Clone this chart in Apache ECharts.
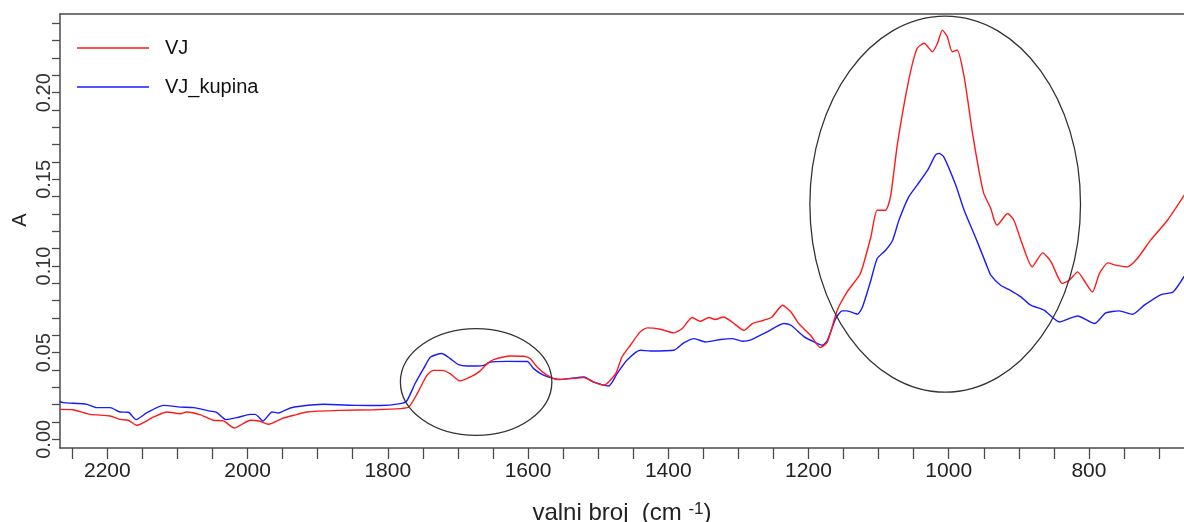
<!DOCTYPE html>
<html>
<head>
<meta charset="utf-8">
<script src="https://cdn.jsdelivr.net/npm/echarts@6/dist/echarts.min.js"></script>
<style>
  html, body { margin: 0; padding: 0; background: #ffffff; }
  #chart { width: 1184px; height: 522px; }
</style>
</head>
<body>
<div id="chart"></div>
<script>
// ---- Data ----
const seriesNames = ['VJ', 'VJ_kupina'];

const vjWavenumber = [2268,2249,2225,2196,2182,2170,2158,2134,2115,2096,2087,2068,2049,2034,2019,1996,1982,1970,1951,1934,1915,1868,1820,1782,1770,1758,1744,1735,1723,1711,1697,1682,1670,1658,1649,1625,1606,1597,1587,1573,1558,1520,1507,1492,1475,1466,1454,1440,1430,1411,1392,1380,1366,1354,1342,1333,1321,1309,1292,1280,1264,1252,1237,1225,1214,1197,1183,1173,1159,1145,1126,1111,1102,1090,1083,1073,1057,1045,1035,1023,1016,1009,1002,995,988,978,966,957,950,940,935,931,916,907,897,881,866,854,838,828,816,807,795,785,773,762,745,731,712,688,664];
const vjAbsorbance = [0.0173,0.0171,0.0144,0.0135,0.0115,0.0110,0.0081,0.0129,0.0158,0.0148,0.0158,0.0143,0.0110,0.0106,0.0065,0.0110,0.0104,0.0087,0.0120,0.0139,0.0158,0.0167,0.0171,0.0177,0.0186,0.0264,0.0370,0.0398,0.0398,0.0379,0.0337,0.0360,0.0389,0.0437,0.0460,0.0481,0.0479,0.0466,0.0417,0.0370,0.0345,0.0356,0.0331,0.0312,0.0379,0.0475,0.0543,0.0620,0.0643,0.0635,0.0614,0.0639,0.0703,0.0681,0.0703,0.0691,0.0706,0.0677,0.0629,0.0668,0.0687,0.0706,0.0774,0.0735,0.0668,0.0600,0.0529,0.0562,0.0745,0.0850,0.0957,0.1168,0.1322,0.1322,0.1399,0.1707,0.2073,0.2256,0.2285,0.2236,0.2285,0.2361,0.2323,0.2236,0.2246,0.2092,0.1765,0.1553,0.1419,0.1332,0.1264,0.1236,0.1303,0.1264,0.1149,0.0995,0.1076,0.1024,0.0899,0.0918,0.0966,0.0918,0.0850,0.0957,0.1018,0.1005,0.0995,0.1043,0.1149,0.1264,0.1409];

const kupinaWavenumber = [2268,2263,2229,2215,2196,2182,2170,2159,2144,2120,2096,2077,2053,2044,2031,2015,1996,1989,1978,1965,1956,1939,1925,1892,1844,1811,1782,1773,1761,1749,1739,1723,1711,1699,1687,1673,1663,1654,1630,1601,1592,1578,1563,1554,1520,1507,1485,1473,1459,1440,1425,1392,1378,1363,1347,1325,1309,1294,1283,1259,1235,1225,1206,1192,1180,1173,1161,1152,1145,1130,1123,1111,1102,1090,1080,1071,1057,1045,1030,1019,1014,1007,990,978,962,945,940,926,912,897,883,864,842,828,816,792,776,757,738,721,697,680,664];
const kupinaAbsorbance = [0.0219,0.0212,0.0202,0.0183,0.0183,0.0158,0.0156,0.0114,0.0152,0.0196,0.0186,0.0183,0.0163,0.0156,0.0114,0.0125,0.0144,0.0144,0.0106,0.0158,0.0152,0.0181,0.0191,0.0202,0.0196,0.0195,0.0206,0.0221,0.0322,0.0408,0.0475,0.0495,0.0466,0.0431,0.0423,0.0423,0.0427,0.0446,0.0450,0.0449,0.0408,0.0370,0.0350,0.0346,0.0360,0.0331,0.0308,0.0379,0.0456,0.0514,0.0510,0.0514,0.0556,0.0581,0.0562,0.0576,0.0581,0.0566,0.0572,0.0620,0.0668,0.0658,0.0591,0.0562,0.0543,0.0572,0.0698,0.0741,0.0741,0.0722,0.0764,0.0918,0.1043,0.1091,0.1149,0.1264,0.1399,0.1467,0.1553,0.1640,0.1650,0.1630,0.1467,0.1322,0.1168,0.0995,0.0947,0.0889,0.0860,0.0822,0.0774,0.0745,0.0677,0.0697,0.0712,0.0668,0.0729,0.0741,0.0722,0.0774,0.0835,0.0850,0.0941];

// tick marks and labels
const xTickValues = [2250,2200,2150,2100,2050,2000,1950,1900,1850,1800,1750,1700,1650,1600,1550,1500,1450,1400,1350,1300,1250,1200,1150,1100,1050,1000,950,900,850,800,750,700];
const xLabelValues = [2200,2000,1800,1600,1400,1200,1000,800];
const yTickValues = [0,0.01,0.02,0.03,0.04,0.05,0.06,0.07,0.08,0.09,0.10,0.11,0.12,0.13,0.14,0.15,0.16,0.17,0.18,0.19,0.20,0.21,0.22,0.23,0.24];
const yLabelValues = [0,0.05,0.10,0.15,0.20];

// highlighted regions (wavenumber from, wavenumber to, A from, A to)
const highlightRegions = [
  [1782, 1566, 0.0023, 0.0639],
  [1198, 812, 0.0272, 0.2442]
];

// ---- Chart ----
const FONT = "'Liberation Sans', Arial, sans-serif";
const AXIS_COLOR = '#4a4a4a';
const X_MIN = 664.4, X_MAX = 2267.5;

const zip = (xs, ys) => xs.map((x, i) => [x, ys[i]]);

const chart = echarts.init(document.getElementById('chart'), null, { renderer: 'canvas' });

const option = {
  animation: false,
  backgroundColor: '#ffffff',
  textStyle: { fontFamily: FONT },
  grid: { left: 60, right: 0, top: 14, bottom: 74, containLabel: false, outerBoundsMode: 'none' },
  legend: {
    data: seriesNames,
    orient: 'vertical',
    left: 72,
    top: 33,
    icon: 'rect',
    itemWidth: 72,
    itemHeight: 1.6,
    itemGap: 19,
    textStyle: { fontSize: 20, color: '#111', fontFamily: FONT, padding: [0, 0, 0, 11] }
  },
  xAxis: [
    {
      type: 'value',
      inverse: true,
      min: X_MIN,
      max: X_MAX,
      position: 'bottom',
      name: '{t|valni broj  (cm }{s|-1}{t|)}',
      nameLocation: 'middle',
      nameGap: 53,
      nameMoveOverlap: false,
      nameTextStyle: {
        rich: {
          t: { fontSize: 24, color: '#222', fontFamily: FONT },
          s: { fontSize: 17, color: '#222', fontFamily: FONT, verticalAlign: 'top' }
        }
      },
      splitLine: { show: false },
      axisLine: { show: true, onZero: false, lineStyle: { color: AXIS_COLOR, width: 1.5 } },
      axisTick: { show: true, length: 11, customValues: xTickValues, lineStyle: { color: AXIS_COLOR, width: 1.3 } },
      axisLabel: { customValues: xLabelValues, fontSize: 21, color: '#222', margin: 13, fontFamily: FONT, formatter: v => String(v) }
    },
    {
      type: 'value',
      inverse: true,
      min: X_MIN,
      max: X_MAX,
      position: 'top',
      splitLine: { show: false },
      axisLine: { show: true, onZero: false, lineStyle: { color: AXIS_COLOR, width: 1.5 } },
      axisTick: { show: false },
      axisLabel: { show: false }
    }
  ],
  yAxis: {
    type: 'value',
    min: -0.005,
    max: 0.2454,
    name: 'A',
    nameLocation: 'middle',
    nameRotate: 90,
    nameGap: 30,
    nameMoveOverlap: false,
    nameTextStyle: { fontSize: 20, color: '#222', fontFamily: FONT, padding: [0, 0, 0, 22] },
    splitLine: { show: false },
    axisLine: { show: true, onZero: false, lineStyle: { color: AXIS_COLOR, width: 1.5 } },
    axisTick: { show: true, length: 8, customValues: yTickValues, lineStyle: { color: AXIS_COLOR, width: 1.3 } },
    axisLabel: {
      customValues: yLabelValues,
      rotate: 90,
      fontSize: 20,
      color: '#333',
      margin: 6,
      fontFamily: FONT,
      formatter: v => v.toFixed(2)
    }
  },
  series: [
    {
      name: seriesNames[0],
      type: 'line',
      data: zip(vjWavenumber, vjAbsorbance),
      showSymbol: false,
      smooth: 0.2,
      lineStyle: { color: '#ff1a1a', width: 1.4 },
      itemStyle: { color: '#ff1a1a' },
      z: 3
    },
    {
      name: seriesNames[1],
      type: 'line',
      data: zip(kupinaWavenumber, kupinaAbsorbance),
      showSymbol: false,
      smooth: 0.2,
      lineStyle: { color: '#1a1aff', width: 1.4 },
      itemStyle: { color: '#1a1aff' },
      z: 2
    },
    {
      name: 'regions',
      type: 'custom',
      silent: true,
      clip: false,
      data: highlightRegions,
      encode: { x: [0, 1], y: [2, 3] },
      renderItem: function (params, api) {
        const p1 = api.coord([api.value(0), api.value(2)]);
        const p2 = api.coord([api.value(1), api.value(3)]);
        return {
          type: 'ellipse',
          shape: {
            cx: (p1[0] + p2[0]) / 2,
            cy: (p1[1] + p2[1]) / 2,
            rx: Math.abs(p2[0] - p1[0]) / 2,
            ry: Math.abs(p2[1] - p1[1]) / 2
          },
          style: { fill: 'none', stroke: '#333', lineWidth: 1.3 }
        };
      },
      z: 4
    }
  ]
};

chart.setOption(option);
</script>
</body>
</html>
